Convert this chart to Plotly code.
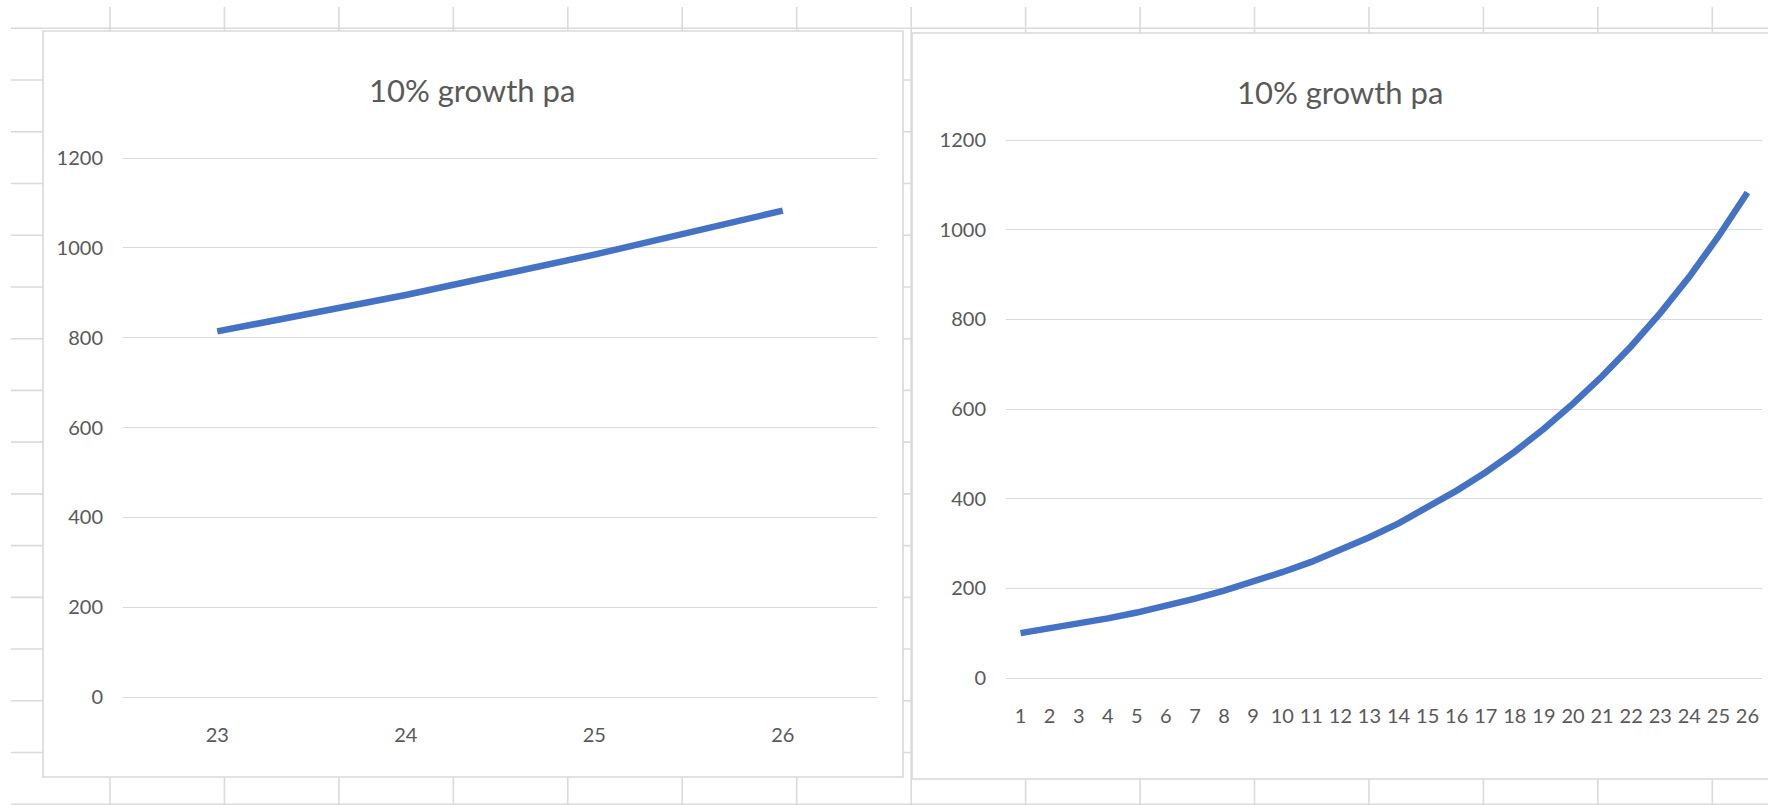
import plotly.graph_objects as go

# ---- data ----
years_left = [23, 24, 25, 26]
values_left = [814, 895, 985, 1083]

years_right = list(range(1, 27))
values_right = [100, 110, 121, 133, 146, 161, 177, 195, 214, 236, 259, 285, 314,
                345, 380, 418, 459, 505, 556, 612, 673, 740, 814, 895, 985, 1083]

y_ticks = [0, 200, 400, 600, 800, 1000, 1200]
chart_title = "10% growth pa"

# ---- layout helpers ----
W, H = 1768, 805
FONT = "Lato, Carlito, Calibri, Roboto, sans-serif"
TXT = "#595959"
GRID = "#D9D9D9"
CELL = "#DADADA"
BLUE = "#4472C4"


def px(x):
    return x / W


def py(y):
    return 1 - y / H


fig = go.Figure()
fig.add_trace(go.Scatter(x=years_left, y=values_left, mode="lines",
                         line=dict(color=BLUE, width=6.5), xaxis="x", yaxis="y",
                         showlegend=False, hoverinfo="x+y"))
fig.add_trace(go.Scatter(x=years_right, y=values_right, mode="lines",
                         line=dict(color=BLUE, width=6.5), xaxis="x2", yaxis="y2",
                         showlegend=False, hoverinfo="x+y"))

shapes = []
# spreadsheet cell grid behind the charts
row0, row_h = 28.3, 51.73
col0, col_w = 110.0, 114.45
k = 0
while row0 + row_h * k <= H + 1:
    yy = row0 + row_h * k
    shapes.append(dict(type="line", xref="paper", yref="paper", layer="below",
                       x0=px(11), x1=1, y0=py(yy), y1=py(yy),
                       line=dict(color=CELL, width=1.6)))
    k += 1
k = 0
while col0 + col_w * k <= W:
    xx = col0 + col_w * k
    shapes.append(dict(type="line", xref="paper", yref="paper", layer="below",
                       x0=px(xx), x1=px(xx), y0=py(7), y1=0,
                       line=dict(color=CELL, width=1.6)))
    k += 1
# chart boxes
shapes.append(dict(type="rect", xref="paper", yref="paper", layer="below",
                   x0=px(43), x1=px(903), y0=py(777), y1=py(31),
                   fillcolor="white", line=dict(color=GRID, width=1.6)))
shapes.append(dict(type="rect", xref="paper", yref="paper", layer="below",
                   x0=px(912), x1=px(1790), y0=py(779), y1=py(33),
                   fillcolor="white", line=dict(color=GRID, width=1.6)))

common_y = dict(range=[0, 1203], tickvals=y_ticks, showgrid=True, gridcolor=GRID,
                gridwidth=1.4, zeroline=True, zerolinecolor=GRID, zerolinewidth=1.4,
                showline=False, ticks="", ticklabelstandoff=19, automargin=False,
                tickfont=dict(family=FONT, size=20, color=TXT), fixedrange=True)
common_x = dict(showgrid=False, zeroline=False, showline=False, ticks="",
                tickangle=0, ticklabelstandoff=24, automargin=False,
                tickfont=dict(family=FONT, size=20, color=TXT), fixedrange=True)

fig.update_layout(
    width=W, height=H,
    margin=dict(l=0, r=0, t=0, b=0, pad=0, autoexpand=False),
    paper_bgcolor="white", plot_bgcolor="rgba(0,0,0,0)",
    shapes=shapes,
    xaxis=dict(domain=[px(123), px(877)], range=[22.5, 26.5], tickvals=years_left,
               anchor="y", **common_x),
    yaxis=dict(domain=[py(697), py(156.7)], anchor="x", **common_y),
    xaxis2=dict(domain=[px(1006), px(1762)], range=[0.5, 26.5], tickvals=years_right,
                anchor="y2", **common_x),
    yaxis2=dict(domain=[py(678), py(138.7)], anchor="x2", **common_y),
    annotations=[
        dict(text=chart_title, xref="paper", yref="paper", x=px(472), y=py(90),
             xanchor="center", yanchor="middle", showarrow=False,
             font=dict(family=FONT, size=31, color=TXT)),
        dict(text=chart_title, xref="paper", yref="paper", x=px(1340), y=py(92),
             xanchor="center", yanchor="middle", showarrow=False,
             font=dict(family=FONT, size=31, color=TXT)),
    ],
)

fig.write_html(
    "out.html",
    post_script="document.body.style.margin='0px';document.body.style.overflow='hidden';",
    config={"displayModeBar": False},
)
